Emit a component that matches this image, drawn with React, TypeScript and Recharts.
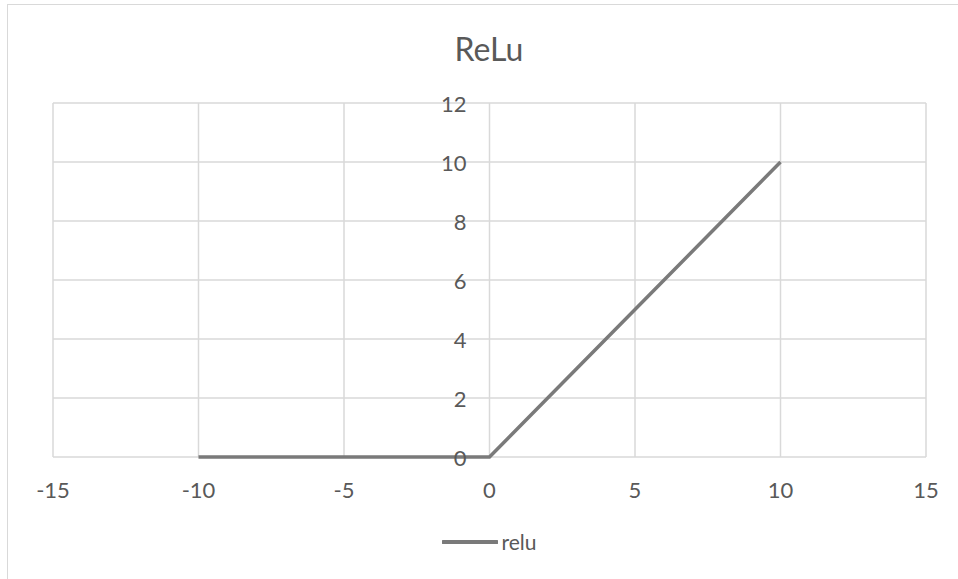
import React from 'react';
import { LineChart, Line, XAxis, YAxis, CartesianGrid, Legend, Customized } from 'recharts';

const chartTitle = 'ReLu';
const seriesName = 'relu';
const xValues = [-10, -9, -8, -7, -6, -5, -4, -3, -2, -1, 0, 1, 2, 3, 4, 5, 6, 7, 8, 9, 10];
const reluValues = [0, 0, 0, 0, 0, 0, 0, 0, 0, 0, 0, 1, 2, 3, 4, 5, 6, 7, 8, 9, 10];
const xTicks = [-15, -10, -5, 0, 5, 10, 15];
const yTicks = [0, 2, 4, 6, 8, 10, 12];

const data = xValues.map((x, i) => ({ x, relu: reluValues[i] }));

const W = 960;
const H = 580;
const LEGEND_H = 30;
const X_AXIS_H = 40;
const Y_AXIS_W = 1;
const margin = { top: 99, right: 41, left: 45, bottom: 57 };
const X_MIN = -15;
const X_MAX = 15;
const plotLeft = margin.left + Y_AXIS_W;
const plotW = W - plotLeft - margin.right;
const zeroX = plotLeft + ((0 - X_MIN) / (X_MAX - X_MIN)) * plotW;

const FONT = 'Lato, "Open Sans", sans-serif';
const TEXT = '#595959';
const GRID = '#d9d9d9';
const LINE = '#7a7a7a';

const XTick = (props: any) => {
  const { x, y, payload } = props;
  return (
    <text x={x} y={y + 32} textAnchor="middle" dominantBaseline="central" fontSize={22} fill={TEXT} fontFamily={FONT}>
      {payload.value}
    </text>
  );
};

const YTick = (props: any) => {
  const { y, payload } = props;
  return (
    <text x={zeroX - 23} y={y} textAnchor="end" dominantBaseline="central" fontSize={22} fill={TEXT} fontFamily={FONT}>
      {payload.value}
    </text>
  );
};

const LegendContent = () => (
  <div style={{ height: LEGEND_H, display: 'flex', alignItems: 'center', justifyContent: 'center' }}>
    <svg width={56} height={10} style={{ display: 'block' }}>
      <line x1={1} y1={5} x2={55} y2={5} stroke={LINE} strokeWidth={4} strokeLinecap="round" />
    </svg>
    <span style={{ marginLeft: 4, fontFamily: FONT, fontSize: 21, color: TEXT, lineHeight: '30px' }}>{seriesName}</span>
  </div>
);

const Title = () => (
  <text x={482} y={57} textAnchor="middle" fontSize={32} fill={TEXT} fontFamily={FONT}>
    {chartTitle}
  </text>
);

export default function App() {
  return (
    <div style={{ position: 'absolute', left: 0, top: 0, width: 958, height: 579, overflow: 'hidden', background: '#fff' }}>
      <div style={{ position: 'absolute', left: 7, top: 4, width: W, height: H, borderLeft: `1.5px solid ${GRID}`, borderTop: `1.5px solid ${GRID}`, boxSizing: 'border-box' }} />
      <div style={{ position: 'absolute', left: 7, top: 4, width: W, height: H }}>
        <LineChart width={W} height={H} data={data} margin={margin}>
          <CartesianGrid stroke={GRID} strokeWidth={1.5} />
          <XAxis
            dataKey="x"
            type="number"
            domain={[X_MIN, X_MAX]}
            ticks={xTicks}
            height={X_AXIS_H}
            axisLine={false}
            tickLine={false}
            tickSize={0}
            tickMargin={0}
            tick={<XTick />}
            interval={0}
          />
          <YAxis
            type="number"
            domain={[0, 12]}
            ticks={yTicks}
            width={Y_AXIS_W}
            axisLine={false}
            tickLine={false}
            tickSize={0}
            tickMargin={0}
            tick={<YTick />}
            interval={0}
          />
          <Line
            dataKey="relu"
            name={seriesName}
            stroke={LINE}
            strokeWidth={3.5}
            dot={false}
            isAnimationActive={false}
          />
          <Legend
            verticalAlign="bottom"
            content={<LegendContent />}
            wrapperStyle={{ top: 523, bottom: 'auto', left: margin.left, width: W - margin.left - margin.right, height: LEGEND_H }}
          />
          <Customized component={<Title />} />
        </LineChart>
      </div>
    </div>
  );
}
